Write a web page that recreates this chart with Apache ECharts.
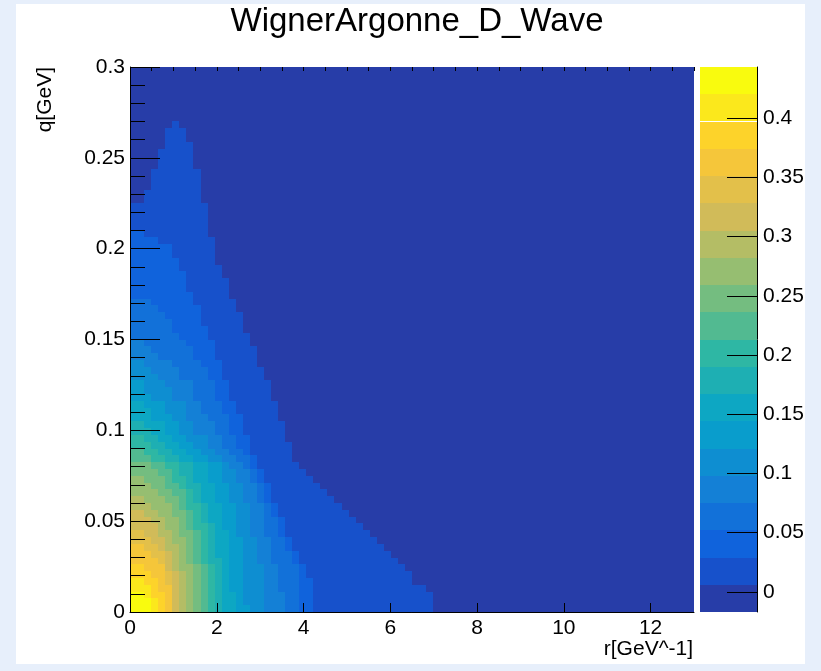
<!DOCTYPE html>
<html>
<head>
<meta charset="utf-8">
<script src="https://cdn.jsdelivr.net/npm/echarts@6/dist/echarts.min.js"></script>
<style>
  html, body { margin: 0; padding: 0; background: #e7effb; }
  #chart { width: 821px; height: 671px; }
</style>
</head>
<body>
<div id="chart"></div>
<script>
// Histogram binning: 80 x 80 cells
const rRange = [0, 13];
const qRange = [0, 0.3];
const nBinsR = 80;
const nBinsQ = 80;

// Colour-contour scale of the z axis (20 levels)
const zRange = [-0.0171, 0.4433];
const nLevels = 20;

const rTickStep = 2;
const qTickStep = 0.05;
const zTickValues = [0, 0.05, 0.1, 0.15, 0.2, 0.25, 0.3, 0.35, 0.4];

const titleText = 'WignerArgonne_D_Wave';
const rTitle = 'r[GeV^-1]';
const qTitle = 'q[GeV]';

// Contour level of every cell: one string per q bin (lowest q first),
// one base-20 digit per r bin ('0'..'9', 'a'..'j'); cells past the end are level 0.
const levelRows = [
  'jjjihgedcba98776655444332211111111111111111',
  'jjjihgedcba98776555444332211111111111111111',
  'jjihhgedcba98776555444332211111111111111111',
  'iiihggedcba9876655544333221111111111111111',
  'iihhgfedcba98766555443332211111111111111',
  'hhhggfedcba98766555443332111111111111111',
  'hhgggedccba9876655544333211111111111111',
  'ggggfedcba98876655443332' + '11111111111111',
  'gggffedcba98776655443332' + '1111111111111',
  'ggffeddcba9877665544332' + '1111111111111',
  'fffeedccba9877665544332' + '111111111111',
  'ffeeddcbba987765544332' + '111111111111',
  'eeeedccba9987665544332' + '11111111111',
  'eeeddccba9877665544332' + '1111111111',
  'eeddccbba987766554432' + '1111111111',
  'dddcccba9987766554432' + '111111111',
  'ddcccbba987766554432' + '111111111',
  'ccccbbaa987766554432' + '11111111',
  'cccbbaa9887766554432' + '1111111',
  'ccbbba9987766554432' + '1111111',
  'bbbbaa9887766554432' + '111111',
  'bbbaa9988776654432' + '111111',
  'aaa998877665544332' + '11111',
  'aa998877665544332' + '111111',
  '99988776655443322' + '111111',
  '99887766555443322' + '11111',
  '8887766554443322' + '111111',
  '8877766554443322' + '111111',
  '7776665544433322' + '11111',
  '777665554433322' + '111111',
  '776665554433322' + '111111',
  '66655544433322' + '111111',
  '66555544433322' + '111111',
  '66555444433322' + '111111',
  '5555444333322' + '111111',
  '5554444333322' + '111111',
  '5544443333222' + '11111',
  '444433333222' + '111111',
  '444333333222' + '111111',
  '443333332222' + '11111',
  '33333332222' + '111111',
  '33333322222' + '11111',
  '3333332222' + '111111',
  '3333322222' + '111111',
  '3333222222' + '11111',
  '333222222' + '111111',
  '222222222' + '11111',
  '22222222' + '111111',
  '22222222' + '111111',
  '22222222' + '11111',
  '2222222' + '111111',
  '2222222' + '11111',
  '222222' + '111111',
  '222222' + '111111',
  '2222' + '11111111',
  '22' + '111111111',
  '11111111111',
  '11111111111',
  '11111111111',
  '11111111111',
  '0011111111',
  '0011111111',
  '0001111111',
  '0001111111',
  '0001111111',
  '000011111',
  '000011111',
  '000011111',
  '000001111',
  '00000111',
  '00000111',
  '0000001'
];

// ROOT "kBird" palette stops
const birdStops = [0, 0.125, 0.25, 0.375, 0.5, 0.625, 0.75, 0.875, 1];
const birdR = [0.2082, 0.0592, 0.0780, 0.0232, 0.1802, 0.5301, 0.8186, 0.9956, 0.9764];
const birdG = [0.1664, 0.3599, 0.5041, 0.6419, 0.7178, 0.7492, 0.7328, 0.7862, 0.9832];
const birdB = [0.5293, 0.8684, 0.8385, 0.7914, 0.6425, 0.4662, 0.3499, 0.1968, 0.0539];

function birdColor(t) {
  let i = 0;
  while (i < birdStops.length - 2 && t > birdStops[i + 1]) i++;
  const f = (t - birdStops[i]) / (birdStops[i + 1] - birdStops[i]);
  const c = (arr) => Math.round(255 * (arr[i] + (arr[i + 1] - arr[i]) * f));
  return 'rgb(' + c(birdR) + ',' + c(birdG) + ',' + c(birdB) + ')';
}

const levelWidth = (zRange[1] - zRange[0]) / nLevels;
const pieces = [];
for (let k = 0; k < nLevels; k++) {
  const idx = Math.floor((k + 0.99) * 255 / nLevels);
  pieces.push({
    gte: zRange[0] + k * levelWidth,
    lt: zRange[0] + (k + 1) * levelWidth,
    color: birdColor(Math.min(idx, 254) / 254)
  });
}

// Cells: [r0, r1, q0, q1, z]
const rBin = (rRange[1] - rRange[0]) / nBinsR;
const qBin = (qRange[1] - qRange[0]) / nBinsQ;
const cells = [];
for (let j = 0; j < nBinsQ; j++) {
  const row = levelRows[j] || '';
  for (let i = 0; i < nBinsR; i++) {
    const ch = row.charAt(i);
    const level = ch ? parseInt(ch, 20) : 0;
    const z = zRange[0] + (level + 0.5) * levelWidth;
    cells.push([rRange[0] + i * rBin, rRange[0] + (i + 1) * rBin,
                qRange[0] + j * qBin, qRange[0] + (j + 1) * qBin, z]);
  }
}

// Palette bar: [x0, x1, z0, z1, zCentre]
const paletteCells = [];
for (let k = 0; k < nLevels; k++) {
  const lo = zRange[0] + k * levelWidth;
  paletteCells.push([0, 1, lo, lo + levelWidth, lo + levelWidth / 2]);
}

// Pixel-snapped rectangles so neighbouring cells meet without seams
function rectItem(params, api) {
  const a = api.coord([api.value(0), api.value(3)]);
  const b = api.coord([api.value(1), api.value(2)]);
  const x0 = Math.round(a[0]), y0 = Math.round(a[1]);
  const x1 = Math.round(b[0]), y1 = Math.round(b[1]);
  return {
    type: 'rect',
    shape: { x: x0, y: y0, width: x1 - x0, height: y1 - y0 },
    style: { fill: api.visual('color') }
  };
}

const FONT = 'Liberation Sans, Arial, Helvetica, sans-serif';
const black = '#000';

const chart = echarts.init(document.getElementById('chart'), null, { renderer: 'canvas' });
chart.setOption({
  backgroundColor: '#e7effb',
  animation: false,
  graphic: {
    elements: [
      { type: 'rect', z: -10, shape: { x: 16, y: 4, width: 789, height: 660 }, style: { fill: '#fff' } },
      { type: 'text', x: 417, y: 22, style: { text: titleText, font: '33px ' + FONT, fill: black, align: 'center', verticalAlign: 'middle' } },
      { type: 'text', x: 45, y: 67, rotation: Math.PI / 2, style: { text: qTitle, font: '21px ' + FONT, fill: black, align: 'right', verticalAlign: 'middle' } }
    ]
  },
  grid: [
    { left: 130, top: 67, width: 564, height: 545 },
    { left: 700, top: 67, width: 57, height: 545 }
  ],
  xAxis: [
    {
      type: 'value', gridIndex: 0, min: rRange[0], max: rRange[1], interval: rTickStep, z: 5,
      axisLine: { show: true, onZero: false, lineStyle: { color: black, width: 1 } },
      axisTick: { show: true, inside: true, length: 9, lineStyle: { color: black } },
      axisLabel: { fontSize: 21, fontFamily: FONT, color: black, margin: 6, showMaxLabel: false },
      splitLine: { show: false },
      name: rTitle, nameLocation: 'end', nameGap: -1,
      nameTextStyle: { fontSize: 21, fontFamily: FONT, color: black, align: 'right', verticalAlign: 'top', padding: [27, 0, 0, 0] }
    },
    {
      type: 'value', gridIndex: 0, min: rRange[0], max: rRange[1], interval: rTickStep / 4, z: 5,
      axisLine: { show: false, onZero: false },
      axisTick: { show: true, inside: true, length: 4, lineStyle: { color: black } },
      axisLabel: { show: false }, splitLine: { show: false }
    },
    { type: 'value', gridIndex: 1, min: 0, max: 1, show: false }
  ],
  yAxis: [
    {
      type: 'value', gridIndex: 0, min: qRange[0], max: qRange[1], interval: qTickStep, z: 5,
      axisLine: { show: true, onZero: false, lineStyle: { color: black, width: 1 } },
      axisTick: { show: true, inside: true, length: 30, lineStyle: { color: black } },
      minorTick: { show: true, splitNumber: 5, length: 15, lineStyle: { color: black } },
      axisLabel: { fontSize: 21, fontFamily: FONT, color: black, margin: 5 },
      splitLine: { show: false }
    },
    {
      type: 'value', gridIndex: 1, position: 'right', min: zRange[0], max: zRange[1], z: 5,
      axisLine: { show: true, onZero: false, lineStyle: { color: black, width: 1 } },
      axisTick: { show: true, inside: true, length: 30, customValues: zTickValues, lineStyle: { color: black } },
      axisLabel: { fontSize: 21, fontFamily: FONT, color: black, margin: 6, customValues: zTickValues },
      splitLine: { show: false }
    }
  ],
  visualMap: { type: 'piecewise', show: false, dimension: 4, seriesIndex: [0, 1], pieces: pieces },
  series: [
    {
      type: 'custom', coordinateSystem: 'cartesian2d', xAxisIndex: 0, yAxisIndex: 0,
      renderItem: rectItem, encode: { x: [0, 1], y: [2, 3] }, data: cells, z: 2, silent: true
    },
    {
      type: 'custom', coordinateSystem: 'cartesian2d', xAxisIndex: 2, yAxisIndex: 1,
      renderItem: rectItem, encode: { x: [0, 1], y: [2, 3] }, data: paletteCells, z: 2, silent: true
    }
  ]
});
</script>
</body>
</html>
